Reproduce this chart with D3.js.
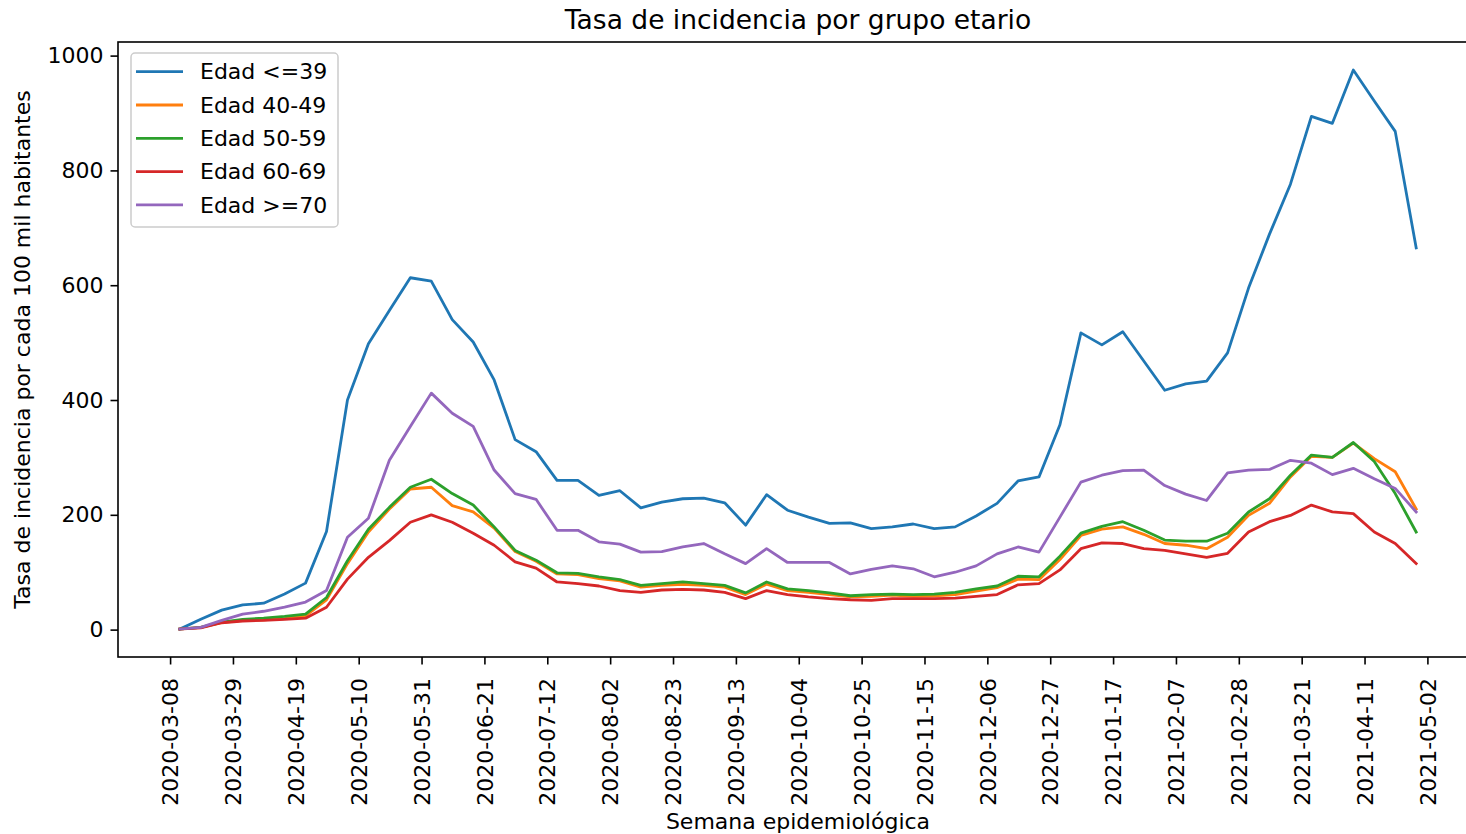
<!DOCTYPE html>
<html><head><meta charset="utf-8">
<script src="https://cdn.jsdelivr.net/npm/d3@7"></script>
<style>
body{margin:0;background:#fff;}
svg{display:block;font-family:"DejaVu Sans",sans-serif;}
</style>
</head><body>
<svg id="chart" width="1466" height="834"></svg>
<script>
// ---- data ----
const firstWeek = "2020-03-11T06:00:00Z";
const weekCount = 60;
const tickLabels = ["2020-03-08","2020-03-29","2020-04-19","2020-05-10","2020-05-31","2020-06-21","2020-07-12","2020-08-02","2020-08-23","2020-09-13","2020-10-04","2020-10-25","2020-11-15","2020-12-06","2020-12-27","2021-01-17","2021-02-07","2021-02-28","2021-03-21","2021-04-11","2021-05-02"];
const yTicks = [0,200,400,600,800,1000];
const seriesNames = ["Edad <=39","Edad 40-49","Edad 50-59","Edad 60-69","Edad >=70"];
const colors = ["#1f77b4","#ff7f0e","#2ca02c","#d62728","#9467bd"];

const edad39 = [1,18,34,43,46,62,81,171,400,498,556,613,607,540,501,435,331,310,260,260,234,242,212,222,228,229,221,182,235,208,196,185,186,176,179,184,176,179,198,220,259,266,357,517,496,519,468,417,428,433,482,595,689,776,894,882,975,921,868,665];
const edad40_49 = [1,4,12,16,17,19,24,52,115,170,210,245,248,216,205,177,136,119,97,96,89,85,74,77,79,77,74,61,79,68,65,61,57,58,60,58,59,61,67,73,88,87,122,164,175,179,166,150,147,141,161,199,220,266,302,300,325,298,275,210];
const edad50_59 = [1,4,13,18,20,23,27,56,120,175,213,248,262,237,217,179,138,121,99,98,92,87,77,80,83,80,77,64,83,71,68,64,59,61,62,61,62,65,71,76,93,92,128,168,180,188,173,156,154,154,168,205,228,269,304,300,326,293,237,170];
const edad60_69 = [1,3,12,15,16,18,20,39,88,126,155,187,200,187,168,147,118,107,83,80,76,68,65,69,70,69,65,54,68,61,57,54,52,51,54,54,54,55,58,61,78,80,104,141,151,150,141,138,132,126,133,170,188,199,217,205,202,170,150,115];
const edad70 = [1,4,16,27,32,39,48,68,161,194,295,354,412,377,354,278,237,227,173,173,153,149,135,136,144,150,132,115,141,117,117,117,97,105,111,106,92,100,111,132,144,135,196,257,269,277,278,251,236,225,273,278,279,295,290,270,281,263,246,205];
const seriesValues = [edad39, edad40_49, edad50_59, edad60_69, edad70];

// ---- layout ----
const FONT = "'DejaVu Sans', sans-serif";
const svg = d3.select("#chart");
const M = {left:118, right:1478, top:42, bottom:657};
const WEEK = 7*864e5;
const t0 = new Date(firstWeek);
const dates = d3.range(weekCount).map(i => new Date(t0.getTime() + i*WEEK));
const span = dates[dates.length-1] - dates[0];
const x = d3.scaleUtc()
  .domain([new Date(dates[0].getTime() - 0.05*span), new Date(dates[dates.length-1].getTime() + 0.05*span)])
  .range([M.left, M.right]);
const allVals = seriesValues.flat();
const ymin = d3.min(allVals), ymax = d3.max(allVals);
const yr = ymax - ymin;
const y = d3.scaleLinear().domain([ymin - 0.05*yr, ymax + 0.05*yr]).range([M.bottom, M.top]);

const FS = 22;

// lines
const line = d3.line().x((d,i) => x(dates[i])).y(d => y(d));
svg.append("g").selectAll("path").data(seriesValues).join("path")
  .attr("d", line).attr("fill","none")
  .attr("stroke",(d,i)=>colors[i]).attr("stroke-width",2.8)
  .attr("stroke-linejoin","round").attr("stroke-linecap","square");

// axes
const parseT = d3.utcParse("%Y-%m-%d");
const xAxis = d3.axisBottom(x).tickValues(tickLabels.map(parseT)).tickFormat(d3.utcFormat("%Y-%m-%d")).tickSize(7.5).tickPadding(7);
const gx = svg.append("g").attr("transform",`translate(0,${M.bottom})`).call(xAxis)
  .attr("font-family", FONT).attr("font-size", FS);
gx.select(".domain").remove();
gx.selectAll(".tick line").attr("stroke","#000").attr("stroke-width",1.6);
gx.selectAll(".tick text")
  .attr("font-family", FONT).attr("font-size",FS).attr("fill","#000")
  .attr("transform","rotate(-90)")
  .attr("text-anchor","end")
  .attr("x",-21).attr("y",0).attr("dy","0.35em");

const yAxis = d3.axisLeft(y).tickValues(yTicks).tickFormat(d3.format("d")).tickSize(7.5).tickPadding(7);
const gy = svg.append("g").attr("transform",`translate(${M.left},0)`).call(yAxis)
  .attr("font-family", FONT).attr("font-size", FS);
gy.select(".domain").remove();
gy.selectAll(".tick line").attr("stroke","#000").attr("stroke-width",1.6);
gy.selectAll(".tick text").attr("font-family", FONT).attr("font-size",FS).attr("fill","#000");

// frame
svg.append("rect").attr("x",M.left).attr("y",M.top)
  .attr("width",M.right-M.left).attr("height",M.bottom-M.top)
  .attr("fill","none").attr("stroke","#000").attr("stroke-width",1.6);

// title and labels
svg.append("text").attr("x",(M.left+M.right)/2).attr("y",29)
  .attr("text-anchor","middle").attr("font-size",26.5).attr("fill","#000")
  .text("Tasa de incidencia por grupo etario");
svg.append("text").attr("x",(M.left+M.right)/2).attr("y",829)
  .attr("text-anchor","middle").attr("font-size",FS).attr("fill","#000")
  .text("Semana epidemiológica");
svg.append("text").attr("transform",`translate(22,${(M.top+M.bottom)/2}) rotate(-90)`)
  .attr("text-anchor","middle").attr("dominant-baseline","central")
  .attr("font-size",FS).attr("fill","#000")
  .text("Tasa de incidencia por cada 100 mil habitantes");

// legend
const lg = svg.append("g");
lg.append("rect").attr("x",131).attr("y",53).attr("width",207).attr("height",174)
  .attr("rx",4).attr("fill","#fff").attr("fill-opacity",0.8)
  .attr("stroke","#cccccc").attr("stroke-width",1.5);
seriesNames.forEach((n,i)=>{
  const cy = 71.7 + i*33.3;
  lg.append("line").attr("x1",136).attr("x2",183).attr("y1",cy).attr("y2",cy)
    .attr("stroke",colors[i]).attr("stroke-width",2.8);
  lg.append("text").attr("x",200).attr("y",cy).attr("dy","0.35em")
    .attr("font-size",FS).attr("fill","#000").text(n);
});
</script>
</body></html>
